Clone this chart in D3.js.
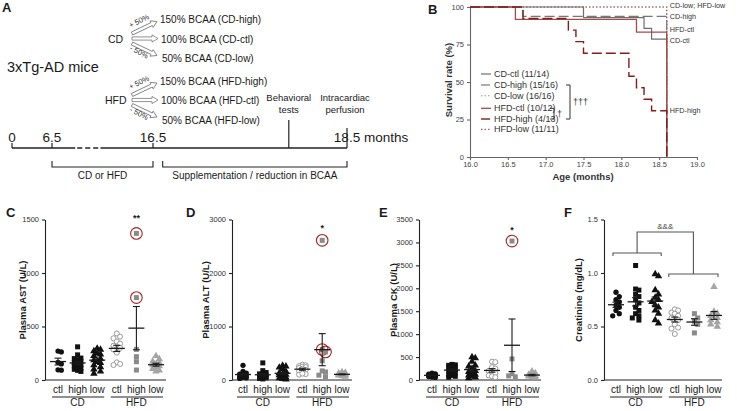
<!DOCTYPE html>
<html><head><meta charset="utf-8">
<script src="https://cdn.jsdelivr.net/npm/d3@7"></script>
<style>body{margin:0;background:#fff} text{font-family:"Liberation Sans",Arial,Helvetica,sans-serif}</style>
</head><body><svg id="c" width="737" height="411"></svg>
<script>
// ---------- Panel A data ----------
const timelineMonths = [0, 6.5, 16.5, 18.5];
const timelineLabels = ["0", "6.5", "16.5", "18.5"];
const timelineUnit = "months";
const timelineBreak = [8.8, 11.3];
const eventMonths = [17.9, 18.5];
const eventLabels = [["Behavioral", "tests"], ["Intracardiac", "perfusion"]];
const diets = ["CD", "HFD"];
const bcaaPercent = ["150%", "100%", "50%"];
const bcaaGroup = ["high", "ctl", "low"];
const changeLabels = ["+ 50%", "- 50%"];
const phaseLabels = ["CD or HFD", "Supplementation / reduction in BCAA"];
const phaseMonths = [[6.5, 16.5], [16.6, 18.5]];

// ---------- Panel B data ----------
const survNames = ["CD-ctl", "CD-high", "CD-low", "HFD-ctl", "HFD-high", "HFD-low"];
const survCounts = ["11/14", "15/16", "16/16", "10/12", "4/13", "11/11"];
const survCDctlT = [17.5, 18.3, 18.4];       const survCDctlP = [92.9, 85.7, 78.6];
const survCDhighT = [16.7];                   const survCDhighP = [93.75];
const survCDlowT = [];                        const survCDlowP = [];
const survHFDctlT = [16.6, 18.2];             const survHFDctlP = [91.7, 83.3];
const survHFDhighT = [16.7, 17.3, 17.4, 17.5, 18.1, 18.2, 18.3, 18.4];
const survHFDhighP = [92.3, 84.6, 76.9, 69.2, 53.8, 46.2, 38.5, 30.8];
const survHFDlowT = [];                       const survHFDlowP = [];
const survEnd = 18.6;
const survXTicks = [16.0, 16.5, 17.0, 17.5, 18.0, 18.5, 19.0];
const survYTicks = [0, 25, 50, 75, 100];
const survEndLabels = ["CD-low; HFD-low", "CD-high", "HFD-ctl", "CD-ctl", "HFD-high"];
const survEndLabelP = [100, 93.75, 83.3, 78.6, 30.8];

// ---------- Panels C–F data ----------
const groupLabels = ["ctl", "high", "low", "ctl", "high", "low"];
const astCDctl = [270, 262, 165, 150, 95, 92];
const astCDhigh = [310, 235, 205, 190, 175, 160, 150, 140, 130, 120, 110, 100, 90, 80, 200];
const astCDlow = [295, 285, 270, 250, 225, 200, 185, 170, 160, 140, 120, 100, 80, 60, 240];
const astHFDctl = [435, 405, 390, 360, 340, 320, 300, 285, 255, 165, 150, 140];
const astHFDhigh = [1370, 770, 286, 218, 171, 93];
const astHFDlow = [225, 195, 175, 160, 150, 140, 130, 120, 105, 90, 80];
const astCircled = [1370, 770];
const astTicks = [0, 500, 1000, 1500];

const altCDctl = [275, 160, 130, 110, 90, 75, 60, 50, 40, 30];
const altCDhigh = [320, 175, 140, 115, 100, 85, 70, 60, 50, 40, 30, 20, 95, 65];
const altCDlow = [270, 255, 235, 210, 160, 130, 110, 90, 70, 50, 35, 20, 10, 100];
const altHFDctl = [285, 275, 260, 250, 240, 225, 210, 190, 160, 110, 100, 120];
const altHFDhigh = [2610, 570, 525, 360, 170, 150, 90, 60];
const altHFDlow = [150, 140, 125, 115, 105, 95, 85, 75, 65, 95, 110];
const altCircled = [2610, 570, 525];
const altTicks = [0, 1000, 2000, 3000];

const ckCDctl = [150, 135, 125, 115, 105, 95, 85, 75, 65, 55, 110];
const ckCDhigh = [340, 330, 320, 310, 300, 280, 250, 220, 200, 180, 150, 120, 100, 80, 60];
const ckCDlow = [500, 480, 400, 320, 300, 250, 200, 180, 150, 120, 100, 80, 60, 40];
const ckHFDctl = [400, 390, 280, 250, 200, 180, 150, 100, 80, 60];
const ckHFDhigh = [3030, 460, 140, 90, 70];
const ckHFDlow = [190, 150, 120, 100, 80, 70, 60, 90];
const ckCircled = [3030];
const ckTicks = [0, 500, 1000, 1500, 2000, 2500, 3000, 3500];

const creCDctl = [0.82, 0.78, 0.75, 0.73, 0.70, 0.68, 0.65, 0.62, 0.60];
const creCDhigh = [1.07, 0.85, 0.84, 0.80, 0.78, 0.75, 0.72, 0.68, 0.65, 0.62, 0.58, 0.56, 0.60];
const creCDlow = [0.99, 0.97, 0.84, 0.80, 0.77, 0.75, 0.73, 0.70, 0.68, 0.65, 0.62, 0.56, 0.53];
const creHFDctl = [0.66, 0.65, 0.63, 0.62, 0.60, 0.58, 0.56, 0.52, 0.49, 0.48, 0.43];
const creHFDhigh = [0.62, 0.58, 0.55, 0.52, 0.44];
const creHFDlow = [0.87, 0.64, 0.62, 0.60, 0.58, 0.56, 0.54, 0.52, 0.50];
const creTicks = [0, 0.5, 1.0, 1.5];

// ================= drawing =================
const svg = d3.select("#c");
svg.append("rect").attr("width", 737).attr("height", 411).attr("fill", "#fff");

function txt(g, x, y, s, size, o = {}) {
  const t = g.append("text").attr("x", x).attr("y", y).text(s)
    .style("font-size", size + "px").attr("fill", o.fill || "#1a1a1a");
  if (o.anchor) t.attr("text-anchor", o.anchor);
  if (o.bold) t.attr("font-weight", "bold");
  if (o.rot !== undefined) t.attr("transform", `rotate(${o.rot},${x},${y})`);
  if (o.central) t.attr("dominant-baseline", "central");
  return t;
}
function ln(g, x1, y1, x2, y2, c = "#222", w = 1.2, dash = null) {
  const l = g.append("line").attr("x1", x1).attr("y1", y1).attr("x2", x2).attr("y2", y2)
    .attr("stroke", c).attr("stroke-width", w);
  if (dash) l.attr("stroke-dasharray", dash);
  return l;
}

// ---------- Panel A ----------
const gA = svg.append("g");
txt(gA, 2, 12, "A", 13, { bold: true });
txt(gA, 7, 72, "3xTg-AD mice", 14.5);

function hollowArrow(g, x0, y0, x1, y1) {
  const a = Math.atan2(y1 - y0, x1 - x0), L = Math.hypot(x1 - x0, y1 - y0);
  const sw = 1.6, hw = 3.6, hl = 6;
  const pts = [[0, -sw], [L - hl, -sw], [L - hl, -hw], [L, 0], [L - hl, hw], [L - hl, sw], [0, sw]];
  g.append("polygon").attr("points", pts.map(p => p.join(",")).join(" "))
    .attr("transform", `translate(${x0},${y0}) rotate(${a * 180 / Math.PI})`)
    .attr("fill", "#fff").attr("stroke", "#777").attr("stroke-width", 0.8);
}
diets.forEach((d, i) => {
  const cy = 38.5 + i * 61.5;
  txt(gA, i === 0 ? 108 : 105, cy + 4, d, 10.5);
  hollowArrow(gA, 132, cy - 5, 157, cy - 17);
  hollowArrow(gA, 132, cy, 158, cy);
  hollowArrow(gA, 132, cy + 5, 157, cy + 17);
  txt(gA, 139, cy - 17.5, changeLabels[0], 7.5, { anchor: "middle", rot: -27, central: true, fill: "#333" });
  txt(gA, 139, cy + 13.5, changeLabels[1], 7.5, { anchor: "middle", rot: 27, central: true, fill: "#333" });
  const ys = [cy - 15.5, cy + 4, cy + 23.5], xs = [160, 161, 162];
  bcaaGroup.forEach((b, k) => txt(gA, xs[k], ys[k], `${bcaaPercent[k]} BCAA (${d}-${b})`, 10));
});

const tS = d3.scaleLinear().domain(timelineMonths).range([12, 52, 153, 347]);
const lineY = 148;
ln(gA, tS(0), lineY, tS(timelineBreak[0]), lineY, "#222", 1.4);
ln(gA, tS(timelineBreak[0]) + 2, lineY, tS(timelineBreak[1]) - 2, lineY, "#222", 1.4, "5,3");
ln(gA, tS(timelineBreak[1]), lineY, tS(18.5), lineY, "#222", 1.4);
timelineMonths.forEach((m, i) => {
  if (i < 3) ln(gA, tS(m), lineY - 5, tS(m), lineY, "#222", 1.2);
  if (i < 3) txt(gA, tS(m), 142, timelineLabels[i], 13.5, { anchor: "middle" });
});
{
  const t = txt(gA, 0, 142, timelineLabels[3] + " " + timelineUnit, 13.5);
  const tmp = txt(gA, 0, -50, timelineLabels[3], 13.5);
  const w = tmp.node().getComputedTextLength(); tmp.remove();
  t.attr("x", tS(18.5) - w / 2);
}
eventMonths.forEach((m, i) => {
  ln(gA, tS(m), i === 0 ? 120 : 128, tS(m), lineY, "#222", 1.2);
  const cx = i === 0 ? tS(m) : tS(m) - 2;
  txt(gA, cx, 101, eventLabels[i][0], 9.5, { anchor: "middle" });
  txt(gA, cx, 113, eventLabels[i][1], 9.5, { anchor: "middle" });
});
phaseMonths.forEach((pm, i) => {
  const x0 = tS(pm[0]), x1 = tS(pm[1]);
  gA.append("path").attr("d", `M${x0},161 V167 H${x1} V161`).attr("fill", "none")
    .attr("stroke", "#222").attr("stroke-width", 1.1);
  txt(gA, (x0 + x1) / 2, 179, phaseLabels[i], 10, { anchor: "middle" });
});

// ---------- Panel B ----------
const gB = svg.append("g");
txt(gB, 428, 14, "B", 13, { bold: true });
const xS = d3.scaleLinear().domain([16, 19]).range([470, 697]);
const yS = d3.scaleLinear().domain([0, 100]).range([157, 7]);
const axCol = "#666";
const axB1 = gB.append("g").attr("transform", "translate(0,157)")
  .call(d3.axisBottom(xS).tickValues(survXTicks).tickFormat(d3.format(".1f")).tickSize(3).tickSizeOuter(0));
const axB2 = gB.append("g").attr("transform", "translate(470,0)")
  .call(d3.axisLeft(yS).tickValues(survYTicks).tickSize(3).tickSizeOuter(0));
[axB1, axB2].forEach(a => {
  a.selectAll("path,line").attr("stroke", axCol).attr("stroke-width", 1.1);
  a.selectAll("text").style("font-size", "7.5px").attr("fill", "#444").attr("font-family", null);
});
axB1.selectAll("text").attr("dy", "0.71em").attr("y", 5);
txt(gB, 583, 180, "Age (months)", 9.5, { anchor: "middle", bold: true, fill: "#333" });
txt(gB, 452, 80, "Survival rate (%)", 9.5, { anchor: "middle", bold: true, rot: -90, fill: "#333" });

const survT = [survCDctlT, survCDhighT, survCDlowT, survHFDctlT, survHFDhighT, survHFDlowT];
const survP = [survCDctlP, survCDhighP, survCDlowP, survHFDctlP, survHFDhighP, survHFDlowP];
const survStyle = [
  { c: "#6f6f6f", d: null, w: 1.2 }, { c: "#777", d: "10,4", w: 1.2 }, { c: "#999", d: "1.5,2", w: 1.1 },
  { c: "#a94a4a", d: null, w: 1.3 }, { c: "#7e1e1e", d: "10,4", w: 1.4 }, { c: "#b35a5a", d: "1.5,2", w: 1.2 }];
const stepLine = d3.line().x(d => xS(d[0])).y(d => yS(d[1])).curve(d3.curveStepAfter);
[2, 5, 1, 0, 3, 4].forEach(i => {
  const pts = [[16, 100]];
  survT[i].forEach((t, k) => pts.push([t, survP[i][k]]));
  const last = pts[pts.length - 1][1];
  pts.push([survEnd, last], [survEnd, 0]);
  const p = gB.append("path").attr("d", stepLine(pts)).attr("fill", "none")
    .attr("stroke", survStyle[i].c).attr("stroke-width", survStyle[i].w);
  if (survStyle[i].d) p.attr("stroke-dasharray", survStyle[i].d);
});
const endNudge = [-2, 0, -2.5, 1, 0];
survEndLabels.forEach((s, i) => txt(gB, xS(survEnd) + 3, yS(survEndLabelP[i]) + endNudge[i], s, 7.2, { central: true, fill: "#333" }));
const legY = [74, 85, 95.7, 108.3, 119, 129.3];
survNames.forEach((n, i) => {
  const l = ln(gB, 481, legY[i], 491, legY[i], survStyle[i].c, survStyle[i].w);
  if (survStyle[i].d) l.attr("stroke-dasharray", i === 1 || i === 4 ? "9,3" : survStyle[i].d);
  txt(gB, 494, legY[i], `${n} (${survCounts[i]})`, 9, { central: true, fill: "#333" });
});
gB.append("path").attr("d", `M566,${legY[1]} H570 V${legY[4]} H566`).attr("fill", "none").attr("stroke", "#333").attr("stroke-width", 1);
txt(gB, 573, 102, "†††", 9, { central: true, fill: "#333" });
gB.append("path").attr("d", `M550,${legY[3]} H554 V${legY[4]} H550`).attr("fill", "none").attr("stroke", "#333").attr("stroke-width", 1);
txt(gB, 557, 114, "†", 9, { central: true, fill: "#333" });

// ---------- Panels C–F ----------
const groupStyle = [
  { t: d3.symbolCircle, s: 22, fill: "#111", stroke: "none" },
  { t: d3.symbolSquare, s: 25, fill: "#111", stroke: "none" },
  { t: d3.symbolTriangle, s: 24, fill: "#111", stroke: "none" },
  { t: d3.symbolCircle, s: 20, fill: "#fff", stroke: "#9a9a9a" },
  { t: d3.symbolSquare, s: 25, fill: "#8a8a8a", stroke: "none" },
  { t: d3.symbolTriangle, s: 24, fill: "#a5a5a5", stroke: "none" }];

function swarm(vals, y, cx, size, maxOff) {
  const order = vals.map((v, i) => i).sort((a, b) => vals[b] - vals[a]);
  const placed = [], pos = new Array(vals.length);
  order.forEach(i => {
    const py = y(vals[i]);
    let best = null, bestScore = Infinity;
    for (let k = 0; k < 15; k++) {
      const off = k === 0 ? 0 : (k % 2 ? 1 : -1) * Math.ceil(k / 2) * size * 0.75;
      if (Math.abs(off) > maxOff) continue;
      const px = cx + off;
      const md = placed.length ? d3.min(placed, p => Math.hypot(p[0] - px, p[1] - py)) : Infinity;
      if (md >= size) { best = [px, py]; break; }
      const score = -md;
      if (score < bestScore) { bestScore = score; best = [px, py]; }
    }
    placed.push(best); pos[i] = best;
  });
  return pos;
}

const panels = [
  { label: "C", lx: 6, yTitle: "Plasma AST (U/L)", tx: 26, ax: 45, c0: 58, c1: 156, axEnd: 166, ticks: astTicks, fmt: d3.format("d"),
    groups: [astCDctl, astCDhigh, astCDlow, astHFDctl, astHFDhigh, astHFDlow], circled: astCircled, star: "**", starY: 221 },
  { label: "D", lx: 186, yTitle: "Plasma ALT (U/L)", tx: 209, ax: 232, c0: 243, c1: 342, axEnd: 352, ticks: altTicks, fmt: d3.format("d"),
    groups: [altCDctl, altCDhigh, altCDlow, altHFDctl, altHFDhigh, altHFDlow], circled: altCircled, star: "*", starY: 231 },
  { label: "E", lx: 379, yTitle: "Plasma CK (U/L)", tx: 397, ax: 419, c0: 432, c1: 532, axEnd: 541, ticks: ckTicks, fmt: d3.format("d"),
    groups: [ckCDctl, ckCDhigh, ckCDlow, ckHFDctl, ckHFDhigh, ckHFDlow], circled: ckCircled, star: "*", starY: 233 },
  { label: "F", lx: 564, yTitle: "Creatinine (mg/dL)", tx: 582, ax: 604, c0: 616, c1: 714, axEnd: 722, ticks: creTicks, fmt: d3.format(".1f"),
    groups: [creCDctl, creCDhigh, creCDlow, creHFDctl, creHFDhigh, creHFDlow], circled: [], star: null }
];

panels.forEach(P => {
  const g = svg.append("g");
  txt(g, P.lx, 217, P.label, 13, { bold: true });
  const y = d3.scaleLinear().domain([0, d3.max(P.ticks)]).range([380, 219.5]);
  const x = d3.scalePoint().domain(d3.range(6)).range([P.c0, P.c1]);
  const ay = g.append("g").attr("transform", `translate(${P.ax},0)`)
    .call(d3.axisLeft(y).tickValues(P.ticks).tickFormat(P.fmt).tickSize(3).tickSizeOuter(0));
  ay.selectAll("path,line").attr("stroke", "#222").attr("stroke-width", 1.1);
  ay.selectAll("text").style("font-size", "7.5px").attr("fill", "#333").attr("font-family", null);
  ln(g, P.ax, 380, P.axEnd, 380, "#222", 1.1);
  txt(g, P.tx, 300, P.yTitle, 9.5, { anchor: "middle", bold: true, rot: -90 });
  groupLabels.forEach((gl, i) => txt(g, x(i), 393, gl, 10, { anchor: "middle" }));
  diets.forEach((d, k) => {
    ln(g, x(k * 3) - 6, 397, x(k * 3 + 2) + 7, 397, "#222", 1);
    txt(g, (x(k * 3) + x(k * 3 + 2)) / 2, 406, d, 10, { anchor: "middle" });
  });
  P.groups.forEach((vals, i) => {
    const st = groupStyle[i];
    const pos = swarm(vals, y, x(i), 4.4, 6.6);
    const sym = d3.symbol().type(st.t).size(st.s);
    vals.forEach((v, k) => {
      g.append("path").attr("d", sym()).attr("transform", `translate(${pos[k][0]},${pos[k][1]})`)
        .attr("fill", st.fill).attr("stroke", st.stroke).attr("stroke-width", 1);
      if (i === 4 && P.circled.includes(v)) {
        g.append("circle").attr("cx", pos[k][0]).attr("cy", pos[k][1]).attr("r", 5.8)
          .attr("fill", "none").attr("stroke", "#a32626").attr("stroke-width", 1.1);
      }
    });
    const m = d3.mean(vals), sem = d3.deviation(vals) / Math.sqrt(vals.length);
    const cx = x(i), mc = "#1a1a1a";
    ln(g, cx - 8, y(m), cx + 8, y(m), mc, 1.3);
    ln(g, cx, y(m - sem), cx, y(m + sem), mc, 1.1);
    ln(g, cx - 3.5, y(m + sem), cx + 3.5, y(m + sem), mc, 1.1);
    ln(g, cx - 3.5, y(m - sem), cx + 3.5, y(m - sem), mc, 1.1);
  });
  if (P.star) txt(g, x(4), P.starY, P.star, 9, { anchor: "middle", bold: true });
  if (P.label === "F") {
    const bc = "#555";
    const xa = x(0) - 3, xb = x(2) + 6, xc = x(3) - 6, xd = x(5) + 4;
    g.append("path").attr("d", `M${xa},256 V253 H${xb} V256`).attr("fill", "none").attr("stroke", bc).attr("stroke-width", 1.1);
    g.append("path").attr("d", `M${xc},277 V274 H${xd} V277`).attr("fill", "none").attr("stroke", bc).attr("stroke-width", 1.1);
    const m1 = (xa + xb) / 2, m2 = (xc + xd) / 2;
    g.append("path").attr("d", `M${m1},253 V232 H${m2} V274`).attr("fill", "none").attr("stroke", bc).attr("stroke-width", 1.1);
    txt(g, (m1 + m2) / 2, 229, "&&&", 8, { anchor: "middle", fill: "#444" });
  }
});
</script></body></html>
